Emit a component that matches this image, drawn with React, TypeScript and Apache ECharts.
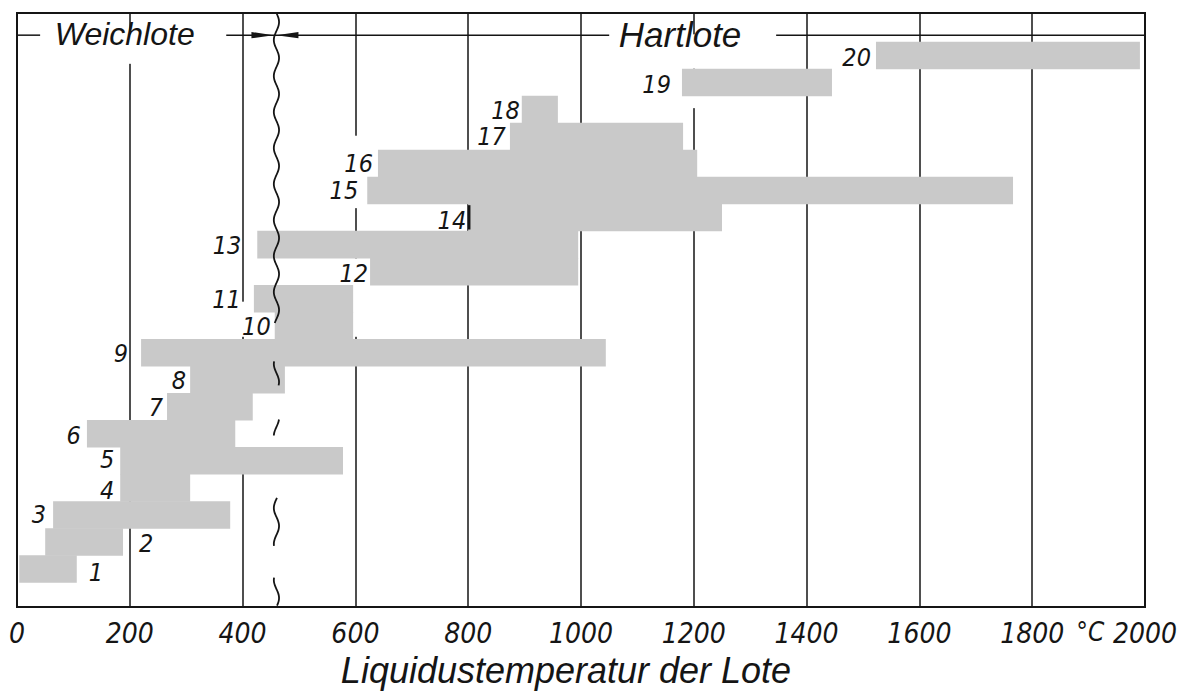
import React, { useEffect, useRef } from "react";
import * as echarts from "echarts";

// ---------- data ----------
const SOLDER_NUMBERS = ["1", "2", "3", "4", "5", "6", "7", "8", "9", "10", "11", "12", "13", "14", "15", "16", "17", "18", "19", "20"];
const RANGE_START = [4, 50, 64, 183, 183, 124, 266, 307, 220, 457, 420, 626, 426, 800, 621, 640, 874, 895, 1179, 1523];
const RANGE_END = [106, 188, 378, 307, 578, 387, 418, 475, 1044, 596, 596, 995, 995, 1250, 1766, 1206, 1181, 959, 1445, 1991];
const LABEL_SIDE = ["right", "right", "left", "left", "left", "left", "left", "left", "left", "left", "left", "left", "left", "left", "left", "left", "left", "left", "left", "left"];
const LABEL_GAP = [12, 16, 7, 6, 6, 6, 4, 4, 13, 4, 13, 2, 16, 2, 9, 5, 4, 2, 11, 5];
const LABEL_DY = [3, 1, -1, 2, -2, 1, 0, 0, 0, 0, 0, 1, 0, 2, -1, -1, -1, 0, 1, 1];
const EDGE_MARKS = [13];

const X_MIN = 0;
const X_MAX = 2000;
const X_STEP = 200;
const UNIT = "°C";
const UNIT_AT = 1903;
const AXIS_TITLE = "Liquidustemperatur der Lote";
const GROUP_TITLES = ["Weichlote", "Hartlote"];
const GROUP_TITLE_AT = [67, 1067];
const GROUP_TITLE_SIZE = [32, 35];

const BOUNDARY_TEMP = 460;
const HEADER_LEVEL = 20.74;
const HEADER_SEGMENTS = [[0, 41], [371, 1050], [1346, 2000]];
const BOUNDARY_SEGMENTS = [[21.56, 10.05], [8.67, 7.76], [6.52, 5.87], [3.62, 1.8], [0.67, -0.42]];
const GRID_GAPS = [
  [200, 20.77, 19.68],
  [1200, 20.77, 19.5],
  [1200, 18.51, 18.04],
  [400, 10.88, 9.58],
  [400, 6.52, 5.43],
  [600, 17.02, 14.34],
  [600, 12.48, 9.58],
];

// ---------- style ----------
const INK = "#151515";
const BAR = "#c9c9c9";
const NARROW = "'Liberation Sans Narrow', 'DejaVu Sans Condensed', 'Liberation Sans', sans-serif";
const WIDE = "'Liberation Sans', 'DejaVu Sans', sans-serif";

export default function App() {
  const ref = useRef<HTMLDivElement>(null);

  useEffect(() => {
    if (!ref.current) return;
    const chart = echarts.init(ref.current, undefined, { renderer: "svg" });

    const barData = SOLDER_NUMBERS.map((n, i) => [RANGE_START[i], RANGE_END[i], i + 1, i]);
    const edgeData = EDGE_MARKS.map((i) => [RANGE_START[i], i + 1]);

    const option: any = {
      animation: false,
      backgroundColor: "#ffffff",
      grid: {
        left: 17,
        right: 50,
        top: 13,
        bottom: 75,
        show: true,
        borderColor: INK,
        borderWidth: 2,
        backgroundColor: "transparent",
      },
      xAxis: {
        type: "value",
        min: X_MIN,
        max: X_MAX,
        interval: X_STEP,
        axisLine: { show: true, onZero: false, lineStyle: { color: INK, width: 2 } },
        axisTick: { show: false },
        splitLine: { show: true, lineStyle: { color: INK, width: 1.5 } },
        axisLabel: {
          show: true,
          color: INK,
          fontStyle: "italic",
          fontFamily: NARROW,
          fontSize: 28,
          margin: 12,
          showMinLabel: true,
          showMaxLabel: true,
          formatter: (v: number) => String(v),
        },
        name: AXIS_TITLE,
        nameLocation: "middle",
        nameGap: 42,
        nameTextStyle: {
          color: INK,
          fontStyle: "italic",
          fontFamily: WIDE,
          fontSize: 36,
          padding: [0, 30, 0, 0],
        },
      },
      yAxis: {
        type: "value",
        min: -0.42,
        max: 21.56,
        show: false,
        splitLine: { show: false },
      },
      series: [
        {
          type: "custom",
          name: "gaps",
          z: 1,
          silent: true,
          data: GRID_GAPS,
          renderItem: (params: any, api: any) => {
            const t = api.value(0);
            const a = api.coord([t, api.value(1)]);
            const b = api.coord([t, api.value(2)]);
            return {
              type: "rect",
              shape: { x: a[0] - 4, y: a[1], width: 8, height: b[1] - a[1] },
              style: { fill: "#ffffff" },
            };
          },
        },
        {
          type: "custom",
          name: "bars",
          z: 2,
          data: barData,
          renderItem: (params: any, api: any) => {
            const s = api.value(0);
            const e = api.value(1);
            const r = api.value(2);
            const p0 = api.coord([s, r + 0.5]);
            const p1 = api.coord([e, r - 0.5]);
            return {
              type: "rect",
              shape: { x: p0[0], y: p0[1], width: p1[0] - p0[0], height: p1[1] - p0[1] + 0.5 },
              style: { fill: BAR },
            };
          },
        },
        {
          type: "custom",
          name: "edges",
          z: 3,
          silent: true,
          data: edgeData,
          renderItem: (params: any, api: any) => {
            const a = api.coord([api.value(0), api.value(1) + 0.45]);
            const b = api.coord([api.value(0), api.value(1) - 0.45]);
            return {
              type: "line",
              shape: { x1: a[0] + 1, y1: a[1], x2: b[0] + 1, y2: b[1] },
              style: { stroke: INK, lineWidth: 2.5 },
            };
          },
        },
        {
          type: "custom",
          name: "labels",
          z: 4,
          data: barData,
          renderItem: (params: any, api: any) => {
            const i = params.dataIndex;
            const right = LABEL_SIDE[i] === "right";
            const r = api.value(2);
            const p = api.coord([right ? api.value(1) : api.value(0), r]);
            const gap = LABEL_GAP[i];
            return {
              type: "text",
              x: right ? p[0] + gap : p[0] - gap,
              y: p[1] + 1 + LABEL_DY[i],
              style: {
                text: SOLDER_NUMBERS[i],
                align: right ? "left" : "right",
                verticalAlign: "middle",
                fontStyle: "italic",
                fontFamily: NARROW,
                fontSize: 25,
                lineHeight: 20,
                fill: INK,
              },
            };
          },
        },
        {
          type: "custom",
          name: "header",
          z: 3,
          silent: true,
          data: HEADER_SEGMENTS,
          renderItem: (params: any, api: any) => {
            const a = api.coord([api.value(0), HEADER_LEVEL]);
            const b = api.coord([api.value(1), HEADER_LEVEL]);
            return {
              type: "line",
              shape: { x1: a[0], y1: a[1], x2: b[0], y2: b[1] },
              style: { stroke: INK, lineWidth: 1.5 },
            };
          },
        },
        {
          type: "custom",
          name: "boundary",
          z: 5,
          silent: true,
          data: [[BOUNDARY_TEMP, HEADER_LEVEL]],
          renderItem: (params: any, api: any) => {
            const t = api.value(0);
            const children: any[] = [];
            BOUNDARY_SEGMENTS.forEach((seg) => {
              const a = api.coord([t, seg[0]]);
              const b = api.coord([t, seg[1]]);
              const pts: number[][] = [];
              for (let y = a[1]; y <= b[1]; y += 2) {
                pts.push([a[0] + 2.6 * Math.sin(((y - 13) / 36) * Math.PI * 2), y]);
              }
              children.push({
                type: "polyline",
                shape: { points: pts, smooth: 0.3 },
                style: { stroke: INK, lineWidth: 1.8, fill: "none" },
              });
            });
            const h = api.coord([t, api.value(1)]);
            const cx = h[0] - 2;
            const hy = h[1];
            children.push({
              type: "polygon",
              shape: { points: [[cx - 23, hy - 3.2], [cx - 23, hy + 3.2], [cx - 1, hy]] },
              style: { fill: INK },
            });
            children.push({
              type: "polygon",
              shape: { points: [[cx + 24, hy - 3.2], [cx + 24, hy + 3.2], [cx + 2, hy]] },
              style: { fill: INK },
            });
            return { type: "group", children };
          },
        },
      ],
    };

    chart.setOption(option);

    const hy = chart.convertToPixel({ gridIndex: 0 }, [0, HEADER_LEVEL]) as number[];
    const unitPos = chart.convertToPixel({ gridIndex: 0 }, [UNIT_AT, -0.42]) as number[];
    const graphics: any[] = GROUP_TITLES.map((title, k) => {
      const p = chart.convertToPixel({ gridIndex: 0 }, [GROUP_TITLE_AT[k], HEADER_LEVEL]) as number[];
      return {
        type: "text",
        x: p[0],
        y: hy[1] - 1,
        z: 10,
        style: {
          text: title,
          align: "left",
          verticalAlign: "middle",
          fontStyle: "italic",
          fontFamily: WIDE,
          fontSize: GROUP_TITLE_SIZE[k],
          fill: INK,
        },
      };
    });
    graphics.push({
      type: "text",
      x: unitPos[0],
      y: unitPos[1] + 12,
      z: 10,
      style: {
        text: UNIT,
        align: "center",
        verticalAlign: "top",
        fontStyle: "italic",
        fontFamily: NARROW,
        fontSize: 26,
        fill: INK,
      },
    });
    chart.setOption({ graphic: graphics });

    return () => {
      chart.dispose();
    };
  }, []);

  return (
    <div
      ref={ref}
      style={{ position: "fixed", left: 0, top: 0, width: 1195, height: 693, background: "#fff" }}
    />
  );
}
